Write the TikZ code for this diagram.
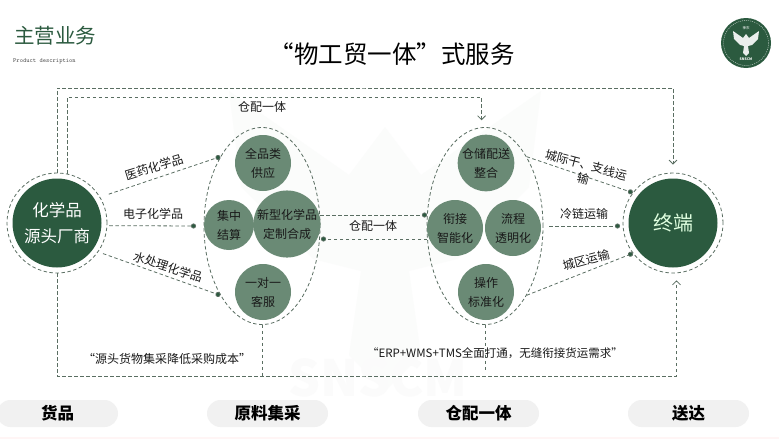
\documentclass[tikz,border=0pt]{standalone}
\usepackage{fontspec}
\setmainfont{Noto Sans CJK SC}
\usetikzlibrary{arrows.meta,shapes.geometric}
\definecolor{darkgreen}{HTML}{2B5A3F}
\definecolor{midgreen}{HTML}{6A8A75}
\definecolor{linegreen}{HTML}{5A6E62}
\definecolor{pale}{HTML}{F1F1F1}
\definecolor{faint}{HTML}{FBFCFB}
\tikzset{
    dashline/.style={draw=linegreen, dashed, dash pattern=on 3.5pt off 2.5pt, line width=0.8pt},
    dotend/.style={dashline, -{Circle[length=5pt,fill=darkgreen]}},
    barbend/.style={dashline, -{Straight Barb[length=4pt,width=8pt]}},
    ring/.style={circle, dashline, minimum size=100pt, inner sep=0pt},
    bigdisc/.style={circle, fill=darkgreen, minimum size=89pt, inner sep=0pt, align=center},
    hub/.style={ellipse, dashline, minimum width=116pt, minimum height=197pt, inner sep=0pt},
    smalldisc/.style={circle, fill=midgreen, minimum size=56pt, inner sep=0pt, align=center,
        text=black!90, font=\fontsize{12}{19}\selectfont},
    tag/.style={text=black!90, font=\fontsize{12}{15}\selectfont, inner sep=0pt, align=center},
    pill/.style={rounded corners=13.5pt, fill=pale, minimum width=121pt, minimum height=27pt,
        inner sep=0pt, font=\fontsize{16.5}{20}\selectfont\bfseries},
}
\begin{document}
\begin{tikzpicture}[x=1pt, y=-1pt]
        \useasboundingbox (0,0) rectangle (779,439);
        \fill[white] (0,0) rectangle (779,439);
        \fill[red!4] (0,437) rectangle (779,439); % Bottom strip
        \fill[faint, shift={(385,235)}, scale=12] (0,-9) -- (3,-5) -- (13,-12) -- (12,-4) -- (6,2) -- (2,3) -- (3,10) -- (0,13)
                        -- (-3,10) -- (-2,3) -- (-6,2) -- (-12,-4) -- (-13,-12) -- (-3,-5) -- cycle; % Watermark
        \node[text=black!1.5, font=\fontsize{50}{52}\selectfont\bfseries, inner sep=0pt] (mark) at (378,378) {SNSCM};

        % Header
        \node[text=darkgreen, font=\fontsize{20.5}{24}\selectfont, anchor=west, inner sep=0pt] (heading) at (14,36) {主营业务};
        \node[text=black!70, font=\fontsize{6.2}{8}\ttfamily, anchor=west, inner sep=0pt] (subheading) at (13,61) {Product description};
        \node[font=\fontsize{24.5}{28}\selectfont, inner sep=0pt] (title) at (392,54) {“物工贸一体”式服务};

        % Logo
        \node[circle, fill=darkgreen, minimum size=50pt, inner sep=0pt] (logo) at (746,43) {};
        \draw[white, dashed, dash pattern=on 1pt off 1pt, line width=0.3pt] (logo.center) circle (22.5);
        \fill[white!90!darkgreen] (746,34) -- (749,38) -- (759,31) -- (758,39) -- (752,45) -- (748,46) -- (749,53) -- (746,56)
                        -- (743,53) -- (744,46) -- (740,45) -- (734,39) -- (733,31) -- (743,38) -- cycle; % Eagle
        \node[text=white, font=\fontsize{3.5}{4}\selectfont, inner sep=0pt] (logotop) at (746,28) {神农};
        \node[text=white, font=\fontsize{3.5}{4}\selectfont\bfseries, inner sep=0pt] (logobottom) at (746,59) {SNSCM};

        % Source and terminal
        \node[ring] (srcring) at (57,223) {};
        \node[bigdisc, text=white, font=\fontsize{16.5}{26}\selectfont] (src) at (57,223) {化学品\\源头厂商};
        \node[ring] (endring) at (673,223) {};
        \node[bigdisc, text=green!12!white, font=\fontsize{20}{24}\selectfont] (end) at (673,223) {终端};

        % Left group
        \node[hub] (lefthub) at (262,226) {};
        \node[smalldisc] (fullcat) at (263,163) {全品类\\供应};
        \node[smalldisc, minimum size=50pt] (settle) at (229,225) {集中\\结算};
        \node[smalldisc, minimum size=64pt] (custom) at (287,224) {新型化学品\\定制合成};
        \node[smalldisc] (service) at (263,292) {一对一\\客服};

        % Right group
        \node[hub] (righthub) at (485,226) {};
        \node[smalldisc] (store) at (486,163) {仓储配送\\整合};
        \node[smalldisc] (link) at (455,228) {衔接\\智能化};
        \node[smalldisc] (flow) at (513,228) {流程\\透明化};
        \node[smalldisc] (standard) at (486,292) {操作\\标准化};

        % Free ends
        \coordinate (elecend) at (196,226);
        \coordinate (coldstart) at (549,226);
        \coordinate (coldend) at (620,226);
        \coordinate (leftup) at (320,215);
        \coordinate (rightup) at (427,215);
        \coordinate (leftlow) at (321,239);
        \coordinate (rightlow) at (427,239);
        \coordinate (outertop) at (365,88);
        \coordinate (innertop) at (270,97);
        \coordinate (bottomline) at (365,376);

        % Long routes
        \draw[barbend, shorten >=8pt] (srcring.north) |- (outertop) -| (endring.north);
        \draw[barbend, shorten >=7pt] (srcring.78) |- (innertop) -| (righthub.92);
        \draw[barbend, shorten >=7pt] (srcring.south) |- (bottomline) -| (endring.-86);
        \draw[dashline] (lefthub.south) -- (lefthub.south |- bottomline);
        \draw[dashline] (righthub.south) -- ([yshift=4pt]righthub.south |- bottomline);

        % Spokes
        \draw[dotend, shorten <=9pt] (srcring.31) -- (lefthub.121);
        \draw[dotend, shorten <=2pt] (srcring.-3) -- (elecend);
        \draw[dotend, shorten <=5pt] (srcring.-35) -- (lefthub.239);
        \draw[dotend] (leftup) -- (rightup);
        \draw[dotend] (rightlow) -- (leftlow);
        \draw[dotend] (righthub.59) -- (endring.143);
        \draw[dotend] (coldstart) -- (coldend);
        \draw[dotend] (righthub.-59) -- (endring.-143);

        % Labels
        \node[tag] (toplabel) at (262,107) {仓配一体};
        \node[tag, rotate=17] (medlabel) at (154,167) {医药化学品};
        \node[tag] (eleclabel) at (153,214) {电子化学品};
        \node[tag, rotate=-18] (waterlabel) at (168,267) {水处理化学品};
        \node[tag] (midlabel) at (373,226) {仓配一体};
        \node[tag, rotate=-15] (trunklabel) at (586,165) {城际干、支线运};
        \node[tag, rotate=-15] (trunklabeltwo) at (583,179) {输};
        \node[tag] (coldlabel) at (584,214) {冷链运输};
        \node[tag, rotate=15] (citylabel) at (586,260) {城区运输};
        \node[tag] (leftnote) at (167,359) {“源头货物集采降低采购成本”};
        \node[tag, font=\fontsize{11.5}{15}\selectfont] (rightnote) at (495,353) {“ERP+WMS+TMS全面打通，无缝衔接货运需求”};

        % Bottom bar
        \node[pill] (goods) at (57.5,413.5) {货品};
        \node[pill] (purchase) at (267.5,413.5) {原料集采};
        \node[pill] (ware) at (478.5,413.5) {仓配一体};
        \node[pill] (deliver) at (688.5,413.5) {送达};
    \end{tikzpicture}
\end{document}
